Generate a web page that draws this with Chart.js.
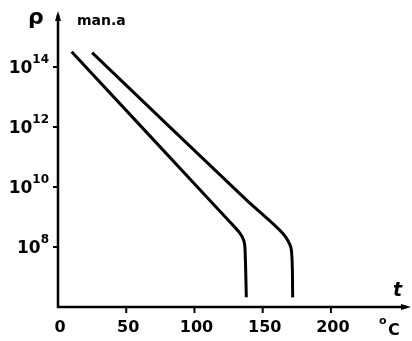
<!DOCTYPE html>
<html>
<head>
<meta charset="utf-8">
<script src="https://cdn.jsdelivr.net/npm/chart.js@4/dist/chart.umd.min.js"></script>
<style>
  html, body { margin: 0; padding: 0; background: #fff; }
  #wrap { width: 412px; height: 341px; position: relative; }
</style>
</head>
<body>
<div id="wrap"><canvas id="chart"></canvas></div>
<script>
// DATA
const tempLeft = [10, 111, 126, 133, 136, 137, 138];
const rhoLeft = [3.2e14, 3.7e9, 6.8e8, 3.0e8, 1.7e8, 9.3e7, 2.1e6];
const tempRight = [25, 138, 160, 167, 171, 172];
const rhoRight = [3.0e14, 3.7e9, 4.7e8, 2.1e8, 8.0e7, 2.1e6];
const xTicks = [0, 50, 100, 150, 200];
const yTickExps = [8, 10, 12, 14];

const FONT = '"DejaVu Sans", sans-serif';

// axes, ticks and labels drawn by hand so they look like the print
const axesPlugin = {
  id: "axesPlugin",
  afterDraw(chart) {
    const { ctx, chartArea: a, scales } = chart;
    const x = scales.x, y = scales.y;
    const x0 = a.left, y0 = a.bottom;
    ctx.save();
    ctx.strokeStyle = "#000";
    ctx.fillStyle = "#000";
    ctx.lineWidth = 2.5;
    ctx.lineCap = "butt";

    // y axis + arrow
    ctx.beginPath();
    ctx.moveTo(x0, y0 + 1);
    ctx.lineTo(x0, a.top);
    ctx.stroke();
    ctx.beginPath();
    ctx.moveTo(x0, a.top - 4);
    ctx.lineTo(x0 - 3, a.top + 6);
    ctx.lineTo(x0 + 3, a.top + 6);
    ctx.closePath();
    ctx.fill();

    // x axis + arrow
    ctx.beginPath();
    ctx.moveTo(x0 - 1, y0);
    ctx.lineTo(a.right, y0);
    ctx.stroke();
    ctx.beginPath();
    ctx.moveTo(a.right + 5, y0);
    ctx.lineTo(a.right - 5, y0 - 3);
    ctx.lineTo(a.right - 5, y0 + 3);
    ctx.closePath();
    ctx.fill();

    ctx.lineWidth = 2;
    // x ticks
    ctx.font = "bold 16px " + FONT;
    ctx.textAlign = "center";
    ctx.textBaseline = "middle";
    xTicks.forEach((v) => {
      const px = x.getPixelForValue(v);
      if (v > 0) {
        ctx.beginPath();
        ctx.moveTo(px, y0);
        ctx.lineTo(px, y0 + 6);
        ctx.stroke();
      }
      ctx.fillText(String(v), px + 2, y0 + 21);
    });

    // y ticks with powers of ten
    yTickExps.forEach((e) => {
      const py = y.getPixelForValue(Math.pow(10, e));
      ctx.beginPath();
      ctx.moveTo(x0 - 5, py);
      ctx.lineTo(x0, py);
      ctx.stroke();
      const sup = String(e);
      ctx.font = "bold 12px " + FONT;
      const supW = ctx.measureText(sup).width;
      ctx.textAlign = "right";
      ctx.textBaseline = "alphabetic";
      ctx.fillText(sup, x0 - 9, py - 4);
      ctx.font = "bold 17px " + FONT;
      ctx.fillText("10", x0 - 9 - supW, py + 6);
    });

    // axis names
    ctx.textAlign = "left";
    ctx.textBaseline = "alphabetic";
    ctx.font = "bold 22px " + FONT;
    ctx.fillText("\u03C1", 28, 24);
    ctx.font = "bold 14px " + FONT;
    ctx.fillText("man.a", 77, 25);
    ctx.font = "italic bold 19px " + FONT;
    ctx.fillText("t", 393, 296);
    ctx.font = "bold 11px " + FONT;
    ctx.fillText("o", 379, 324);
    ctx.font = "bold 16px " + FONT;
    ctx.fillText("C", 388, 335);
    ctx.restore();
  },
};

const toPoints = (xs, ys) => xs.map((t, i) => ({ x: t, y: ys[i] }));

new Chart(document.getElementById("chart"), {
  type: "line",
  data: {
    datasets: [
      {
        data: toPoints(tempLeft, rhoLeft),
        borderColor: "#000",
        borderWidth: 3,
        pointRadius: 0,
        tension: 0.3,
      },
      {
        data: toPoints(tempRight, rhoRight),
        borderColor: "#000",
        borderWidth: 3,
        pointRadius: 0,
        tension: 0.3,
      },
    ],
  },
  options: {
    responsive: true,
    maintainAspectRatio: false,
    animation: false,
    events: [],
    layout: { padding: { left: 58, right: 6, top: 15, bottom: 34 } },
    plugins: { legend: { display: false }, tooltip: { enabled: false } },
    scales: {
      x: { type: "linear", min: 0, max: 255, display: false },
      y: { type: "logarithmic", min: 1e6, max: 5.4e15, display: false },
    },
  },
  plugins: [axesPlugin],
});
</script>
</body>
</html>
